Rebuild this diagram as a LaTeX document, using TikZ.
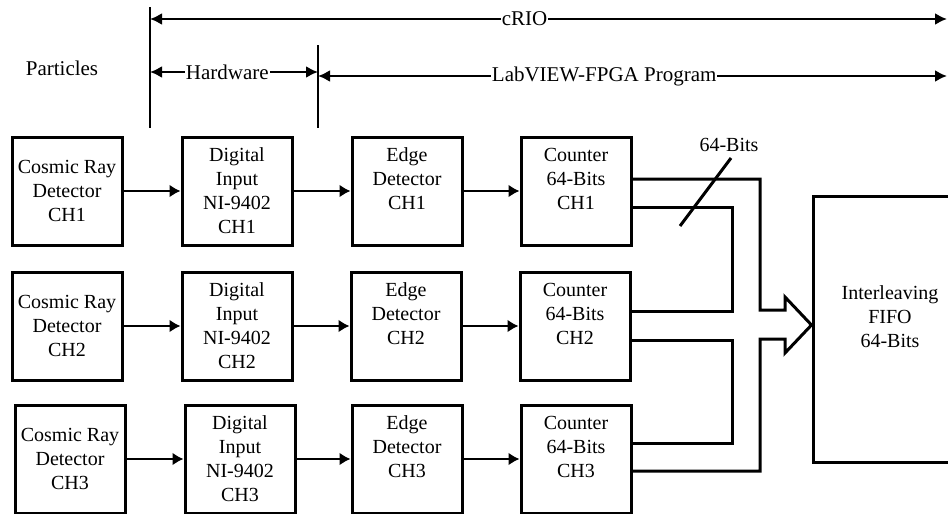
\documentclass[tikz,border=0pt]{standalone}
\usepackage{fontspec}
\setmainfont{Liberation Serif}
\usetikzlibrary{arrows.meta,calc}
\newcommand{\boxfont}{\fontsize{20}{24}\selectfont}
\newcommand{\topfont}{\fontsize{21}{25}\selectfont}
\tikzset{
  box/.style={draw=black,line width=3pt,minimum width=110pt,minimum height=108pt,
              inner sep=0pt,align=center,font=\boxfont},
  flow/.style={-{Latex[length=11pt,width=13pt]},line width=2.8pt},
  bus/.style={line width=3pt,line join=miter},
  dim/.style={line width=2.2pt},
  span/.style={{Latex[length=12pt,width=12pt]}-{Latex[length=12pt,width=12pt]},line width=2.2pt},
  lab/.style={font=\topfont,inner sep=1pt},
}

\begin{document}
\begin{tikzpicture}[x=1pt,y=-1pt]
  \path[use as bounding box] (0,0) rectangle (948,514);

  % scope markers on top
  \node[lab] (part) at (62,68) {Particles};
  \coordinate (v1top) at (150,7);   \coordinate (v1bot) at (150,128);
  \coordinate (v2top) at (318,45);  \coordinate (v2bot) at (318,128);
  \draw[dim] (v1top) -- (v1bot);
  \draw[dim] (v2top) -- (v2bot);
  \draw[span] (v1top |- 0,19) -- (947,19) node[lab,fill=white,pos=0.47] (crio) {cRIO};
  \draw[span] (v1top |- 0,72) -- (v2top |- 0,72) node[lab,fill=white,pos=0.46] (hw) {Hardware};
  \draw[span] (v2top |- 0,76) -- (947,76) node[lab,fill=white,pos=0.455] (lvf) {LabVIEW-FPGA Program};

  % channel 1
  \node[box] (CR1) at (67,191) {Cosmic Ray\\Detector\\CH1};
  \node[box] (DI1) at (237,191) {Digital\\Input\\NI-9402\\CH1};
  \node[box] (ED1) at (407,191) {Edge\\Detector\\CH1\\\mbox{}};
  \node[box] (CT1) at (576,191) {Counter\\64-Bits\\CH1\\\mbox{}};
  \draw[flow] (CR1.east) -- (DI1.west);
  \draw[flow] (DI1.east) -- (ED1.west);
  \draw[flow] (ED1.east) -- (CT1.west);

  % channel 2
  \node[box] (CR2) at (67,326) {Cosmic Ray\\Detector\\CH2};
  \node[box] (DI2) at (237,326) {Digital\\Input\\NI-9402\\CH2};
  \node[box] (ED2) at (406,326) {Edge\\Detector\\CH2\\\mbox{}};
  \node[box] (CT2) at (575,326) {Counter\\64-Bits\\CH2\\\mbox{}};
  \draw[flow] (CR2.east) -- (DI2.west);
  \draw[flow] (DI2.east) -- (ED2.west);
  \draw[flow] (ED2.east) -- (CT2.west);

  % channel 3
  \node[box] (CR3) at (70,459) {Cosmic Ray\\Detector\\CH3};
  \node[box] (DI3) at (240,459) {Digital\\Input\\NI-9402\\CH3};
  \node[box] (ED3) at (407,459) {Edge\\Detector\\CH3\\\mbox{}};
  \node[box] (CT3) at (576,459) {Counter\\64-Bits\\CH3\\\mbox{}};
  \draw[flow] (CR3.east) -- (DI3.west);
  \draw[flow] (DI3.east) -- (ED3.west);
  \draw[flow] (ED3.east) -- (CT3.west);

  % fifo and the 64-bit bus
  \node[box,minimum width=154pt,minimum height=266pt] (FIFO) at (890,329)
    {Interleaving\\FIFO\\64-Bits\\\mbox{}};
  \coordinate (tip) at (FIFO.west |- 0,325);
  \draw[bus] ([yshift=12pt]CT1.east) -| (760,310) -- (785,310) -- (785,297) -- (tip)
    -- (785,353) -- (785,339) -- (760,339) |- ([yshift=-12pt]CT3.east);
  \draw[bus] ([yshift=-16pt]CT1.east) -| (732,311) -- ([yshift=15pt]CT2.east);
  \draw[bus] ([yshift=-14pt]CT2.east) -| (732,443) -- ([yshift=16pt]CT3.east);
  \draw[bus] (680,226) -- (731,158);
  \node[font=\boxfont] (nbits) at (729,145) {64-Bits};
\end{tikzpicture}
\end{document}
